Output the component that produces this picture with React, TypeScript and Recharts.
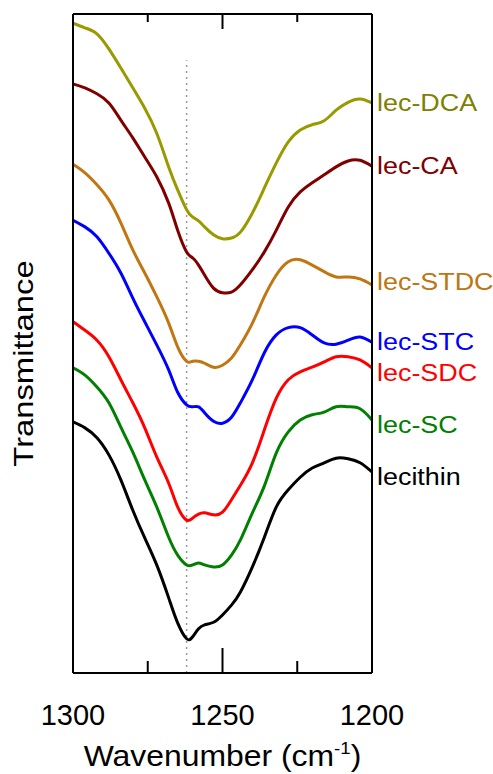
import React from 'react';
import { LineChart, Line, XAxis, YAxis, ReferenceLine } from 'recharts';

// Wavenumber grid (cm^-1) shared by all spectra
const wavenumbers = [
  1300, 1296, 1292, 1288, 1284, 1280, 1276, 1272, 1268, 1265, 1262, 1260, 1258, 1256, 1253,
  1250, 1247, 1244, 1240, 1236, 1232, 1228, 1224, 1220, 1216, 1212, 1208, 1204, 1200,
];

// Offset transmittance traces (arbitrary units)
const lecDCA = [
  98.6, 97.9, 97.0, 94.7, 91.8, 88.8, 85.7, 81.9, 76.8, 73.3, 70.3, 69.2, 68.6, 67.7, 66.5,
  65.9, 66.0, 66.9, 69.8, 73.6, 77.4, 80.6, 82.4, 83.2, 83.8, 85.4, 86.6, 87.1, 86.5,
];
const lecCA = [
  89.4, 88.8, 87.9, 86.5, 83.9, 81.2, 78.3, 75.3, 71.3, 67.2, 63.9, 63.0, 61.9, 60.4, 58.4,
  57.7, 57.8, 58.9, 61.2, 63.9, 67.2, 70.7, 73.0, 74.4, 75.6, 76.8, 77.7, 77.8, 76.9,
];
const lecSTDC = [
  77.2, 75.9, 74.1, 71.8, 68.3, 64.2, 60.7, 57.1, 53.1, 49.5, 47.3, 47.3, 47.3, 47.0, 46.4,
  46.7, 47.8, 49.8, 53.1, 57.1, 60.4, 62.4, 62.7, 61.9, 60.9, 60.1, 60.1, 59.8, 58.9,
];
const lecSTC = [
  68.7, 67.7, 66.2, 63.7, 60.7, 56.9, 53.3, 49.8, 46.0, 42.6, 40.7, 40.4, 40.4, 39.5, 38.2,
  37.9, 38.8, 41.0, 44.5, 48.6, 51.3, 52.4, 52.4, 51.3, 50.1, 49.9, 50.5, 51.0, 50.2,
];
const lecSDC = [
  53.3, 52.0, 50.5, 48.0, 44.5, 41.0, 37.2, 32.8, 28.8, 25.2, 23.2, 23.5, 24.1, 24.3, 24.0,
  24.4, 26.3, 28.5, 31.9, 36.9, 41.7, 44.5, 45.7, 46.4, 47.2, 48.0, 48.0, 47.5, 46.3,
];
const lecSC = [
  46.3, 45.2, 43.4, 41.0, 37.3, 33.5, 29.3, 25.2, 20.6, 17.9, 16.4, 16.4, 16.7, 16.4, 16.1,
  16.4, 17.9, 20.2, 24.3, 28.4, 33.4, 36.6, 38.4, 39.2, 39.6, 40.4, 40.4, 40.1, 38.4,
];
const lecithin = [
  38.1, 37.2, 35.7, 33.1, 29.3, 24.7, 20.5, 16.4, 11.4, 7.6, 5.2, 5.5, 6.7, 7.3, 7.7,
  8.8, 10.3, 12.3, 16.1, 20.6, 25.2, 27.8, 29.7, 31.1, 31.9, 32.6, 32.5, 31.9, 30.5,
];

const seriesNames = ['lec-DCA', 'lec-CA', 'lec-STDC', 'lec-STC', 'lec-SDC', 'lec-SC', 'lecithin'];
const seriesValues = [lecDCA, lecCA, lecSTDC, lecSTC, lecSDC, lecSC, lecithin];

const xTicks = [1300, 1275, 1250, 1225, 1200];
const majorTicks = [1300, 1250, 1200];

// Dotted guide at the lecithin band position
const guideWavenumber = 1262;
const guideTop = 93;

// Styling per series: line colour, label colour, label vertical nudge (px)
const seriesStyle = [
  { stroke: '#999900', text: '#808000', dy: 8 },
  { stroke: '#800000', text: '#800000', dy: 8 },
  { stroke: '#c07612', text: '#bc7612', dy: 5 },
  { stroke: '#0000ff', text: '#0000ff', dy: 8 },
  { stroke: '#ff0000', text: '#ff0000', dy: 13 },
  { stroke: '#008000', text: '#008000', dy: 13 },
  { stroke: '#000000', text: '#000000', dy: 13 },
];

const rows = wavenumbers.map((wn, i) => {
  const row: Record<string, number> = { wn };
  seriesNames.forEach((name, s) => {
    row[name] = seriesValues[s][i];
  });
  return row;
});

const FONT = '"Liberation Sans", Arial, Helvetica, sans-serif';
const WIDTH = 493;
const HEIGHT = 774;
const MARGIN = { top: 13, right: 120, bottom: 41, left: 72 };
const X_AXIS_HEIGHT = 60;
const TOP_AXIS_HEIGHT = 1;
const PLOT_HEIGHT = HEIGHT - MARGIN.top - TOP_AXIS_HEIGHT - MARGIN.bottom - X_AXIS_HEIGHT;
const LABEL_X = 377;

// Inward ticks on the bottom and top edges of the frame, labels below
const FrameTick = (props: any) => {
  const { x, y, payload } = props;
  const major = majorTicks.includes(payload.value);
  const top = y - PLOT_HEIGHT;
  return (
    <g>
      <line x1={x} x2={x} y1={y} y2={y - (major ? 25 : 12)} stroke="#000" strokeWidth={2} />
      <line x1={x} x2={x} y1={top} y2={top + (major ? 15 : 8)} stroke="#000" strokeWidth={2} />
      {major && (
        <text x={x} y={y + 52} textAnchor="middle" fontSize={29} fontFamily={FONT} fill="#000">
          {payload.value}
        </text>
      )}
    </g>
  );
};

const XTitle = (props: any) => {
  const vb = props.viewBox || { x: 73, y: 673, width: 299 };
  const cx = vb.x + vb.width / 2;
  return (
    <text
      transform={`translate(${cx},${vb.y + 93}) scale(1.1,1)`}
      textAnchor="middle"
      fontSize={29}
      fontFamily={FONT}
      fill="#000"
    >
      Wavenumber (cm
      <tspan dy={-12} fontSize={17}>-1</tspan>
      <tspan dy={12}>)</tspan>
    </text>
  );
};

const YTitle = (props: any) => {
  const vb = props.viewBox || { x: 72, y: 14, width: 1, height: 659 };
  const tx = vb.x + vb.width - 40;
  const ty = vb.y + vb.height / 2 + 20;
  return (
    <text
      transform={`translate(${tx},${ty}) rotate(-90) scale(1.17,1)`}
      textAnchor="middle"
      fontSize={28}
      fontFamily={FONT}
      fill="#000"
    >
      Transmittance
    </text>
  );
};

const endLabel = (name: string, style: { text: string; dy: number }) => (props: any) => {
  const { y, index } = props;
  if (index !== wavenumbers.length - 1) return null;
  return (
    <text
      key={name}
      transform={`translate(${LABEL_X},${y + style.dy}) scale(1.17,1)`}
      fontSize={23}
      fontFamily={FONT}
      fill={style.text}
    >
      {name}
    </text>
  );
};

export default function App() {
  return (
    <div style={{ position: 'absolute', left: 0, top: 0 }}>
      <LineChart width={WIDTH} height={HEIGHT} data={rows} margin={MARGIN}>
        <YAxis
          type="number"
          domain={[0, 100]}
          allowDataOverflow
          width={1}
          tick={false}
          tickLine={false}
          axisLine={{ stroke: '#000', strokeWidth: 2 }}
          label={YTitle}
        />
        <YAxis
          yAxisId="right"
          orientation="right"
          type="number"
          domain={[0, 100]}
          allowDataOverflow
          width={1}
          tick={false}
          tickLine={false}
          axisLine={{ stroke: '#000', strokeWidth: 2 }}
        />
        <XAxis
          xAxisId="top"
          orientation="top"
          dataKey="wn"
          type="number"
          domain={[1200, 1300]}
          reversed
          allowDataOverflow
          tick={false}
          tickLine={false}
          axisLine={{ stroke: '#000', strokeWidth: 2 }}
          height={TOP_AXIS_HEIGHT}
        />
        <XAxis
          dataKey="wn"
          type="number"
          domain={[1200, 1300]}
          reversed
          allowDataOverflow
          ticks={xTicks}
          interval={0}
          tickSize={0}
          tickMargin={0}
          tickLine={false}
          tick={FrameTick}
          axisLine={{ stroke: '#000', strokeWidth: 2 }}
          height={X_AXIS_HEIGHT}
          label={XTitle}
        />
        <ReferenceLine
          segment={[
            { x: guideWavenumber, y: 0 },
            { x: guideWavenumber, y: guideTop },
          ]}
          stroke="#999"
          strokeWidth={1.5}
          strokeDasharray="2 4"
        />
        {seriesNames.map((name, s) => (
          <Line
            key={name}
            dataKey={name}
            type="natural"
            stroke={seriesStyle[s].stroke}
            strokeWidth={3}
            dot={false}
            activeDot={false}
            isAnimationActive={false}
            label={endLabel(name, seriesStyle[s])}
          />
        ))}
      </LineChart>
    </div>
  );
}
